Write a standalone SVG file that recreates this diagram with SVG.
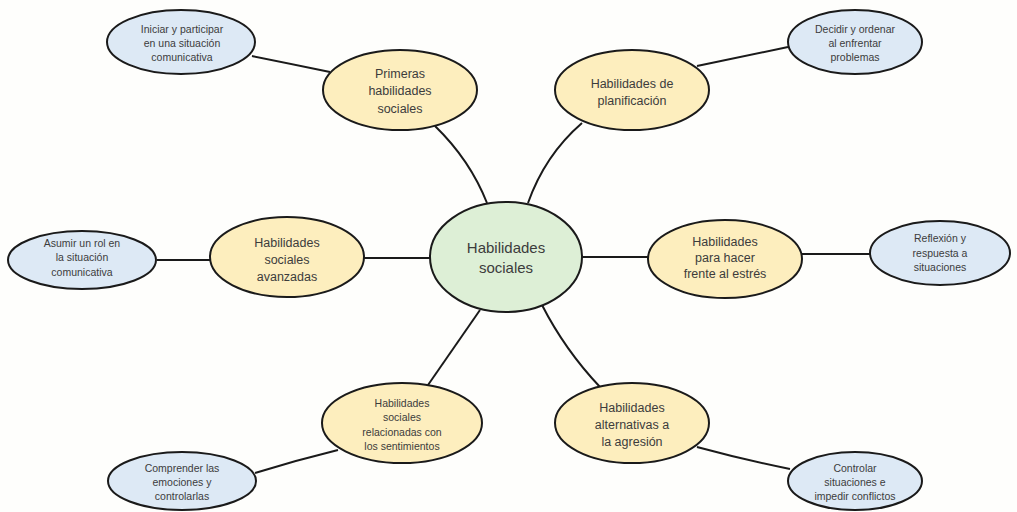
<svg xmlns="http://www.w3.org/2000/svg" width="1017" height="512" viewBox="0 0 1017 512">
<style>
.n ellipse{stroke:#1a1a1a;stroke-width:2}
.y{fill:#FDEEBE}
.b{fill:#DDE9F5}
.g{fill:#DDEFD6}
text{font-family:"Liberation Sans",Arial,sans-serif;fill:#3c3c3c;text-anchor:middle}
.s{font-size:10.5px}
.m{font-size:12.5px}
.l{font-size:15px}
#connectors path{fill:none;stroke:#1a1a1a;stroke-width:2}
</style>
<rect width="1017" height="512" fill="#FEFEFC"/>
<g id="connectors">
<path d="M252,56 Q292,64 330,72"/>
<path d="M697,66 L788,47"/>
<path d="M435,126 Q470,160 487,203"/>
<path d="M582,123 Q545,155 528,203"/>
<path d="M157,260 L210,260"/>
<path d="M363,258 L430,258"/>
<path d="M582,257 L648,257"/>
<path d="M802,254 L870,254"/>
<path d="M480,310 L428,385"/>
<path d="M542,305 Q565,350 600,387"/>
<path d="M255,473 Q297,460 338,450"/>
<path d="M697,447 Q745,460 790,469"/>
</g>
<g id="center" class="n"><ellipse class="g" cx="506" cy="257" rx="76" ry="55"/><text class="l" x="506" y="253">Habilidades</text><text class="l" x="506" y="273">sociales</text></g>
<g id="primeras" class="n"><ellipse class="y" cx="400" cy="90" rx="77" ry="40"/><text class="m" x="400" y="77.5">Primeras</text><text class="m" x="400" y="95">habilidades</text><text class="m" x="400" y="112.5">sociales</text></g>
<g id="planificacion" class="n"><ellipse class="y" cx="632" cy="90" rx="77" ry="40"/><text class="m" x="632" y="87.5">Habilidades de</text><text class="m" x="632" y="104.5">planificación</text></g>
<g id="avanzadas" class="n"><ellipse class="y" cx="287" cy="257" rx="77" ry="40"/><text class="m" x="287" y="247">Habilidades</text><text class="m" x="287" y="264">sociales</text><text class="m" x="287" y="281">avanzadas</text></g>
<g id="estres" class="n"><ellipse class="y" cx="725" cy="259" rx="77" ry="39"/><text class="m" x="725" y="245.5">Habilidades</text><text class="m" x="725" y="261.5">para hacer</text><text class="m" x="725" y="277.5">frente al estrés</text></g>
<g id="sentimientos" class="n"><ellipse class="y" cx="402" cy="423" rx="80" ry="40"/><text class="s" x="402" y="406.7">Habilidades</text><text class="s" x="402" y="421">sociales</text><text class="s" x="402" y="435.5">relacionadas con</text><text class="s" x="402" y="450">los sentimientos</text></g>
<g id="agresion" class="n"><ellipse class="y" cx="632" cy="423" rx="77" ry="40"/><text class="m" x="632" y="412.4">Habilidades</text><text class="m" x="632" y="429.4">alternativas a</text><text class="m" x="632" y="446.4">la agresión</text></g>
<g id="iniciar" class="n"><ellipse class="b" cx="181" cy="42" rx="74" ry="32"/><text class="s" x="182" y="32.7">Iniciar y participar</text><text class="s" x="182" y="46.7">en una situación</text><text class="s" x="182" y="60.7">comunicativa</text></g>
<g id="decidir" class="n"><ellipse class="b" cx="855" cy="42" rx="67" ry="32"/><text class="s" x="855" y="32.7">Decidir y ordenar</text><text class="s" x="855" y="46.7">al enfrentar</text><text class="s" x="855" y="60.7">problemas</text></g>
<g id="asumir" class="n"><ellipse class="b" cx="82" cy="260" rx="74" ry="29"/><text class="s" x="82" y="246.7">Asumir un rol en</text><text class="s" x="82" y="261">la situación</text><text class="s" x="82" y="275.5">comunicativa</text></g>
<g id="reflexion" class="n"><ellipse class="b" cx="940" cy="253" rx="70" ry="32"/><text class="s" x="940" y="241.7">Reflexión y</text><text class="s" x="940" y="256.5">respuesta a</text><text class="s" x="940" y="270.7">situaciones</text></g>
<g id="comprender" class="n"><ellipse class="b" cx="182" cy="481" rx="74" ry="29"/><text class="s" x="182" y="471.7">Comprender las</text><text class="s" x="182" y="485.7">emociones y</text><text class="s" x="182" y="499.7">controlarlas</text></g>
<g id="controlar" class="n"><ellipse class="b" cx="855" cy="481" rx="67" ry="29"/><text class="s" x="855" y="471.7">Controlar</text><text class="s" x="855" y="485.7">situaciones e</text><text class="s" x="855" y="499.7">impedir conflictos</text></g>
</svg>
